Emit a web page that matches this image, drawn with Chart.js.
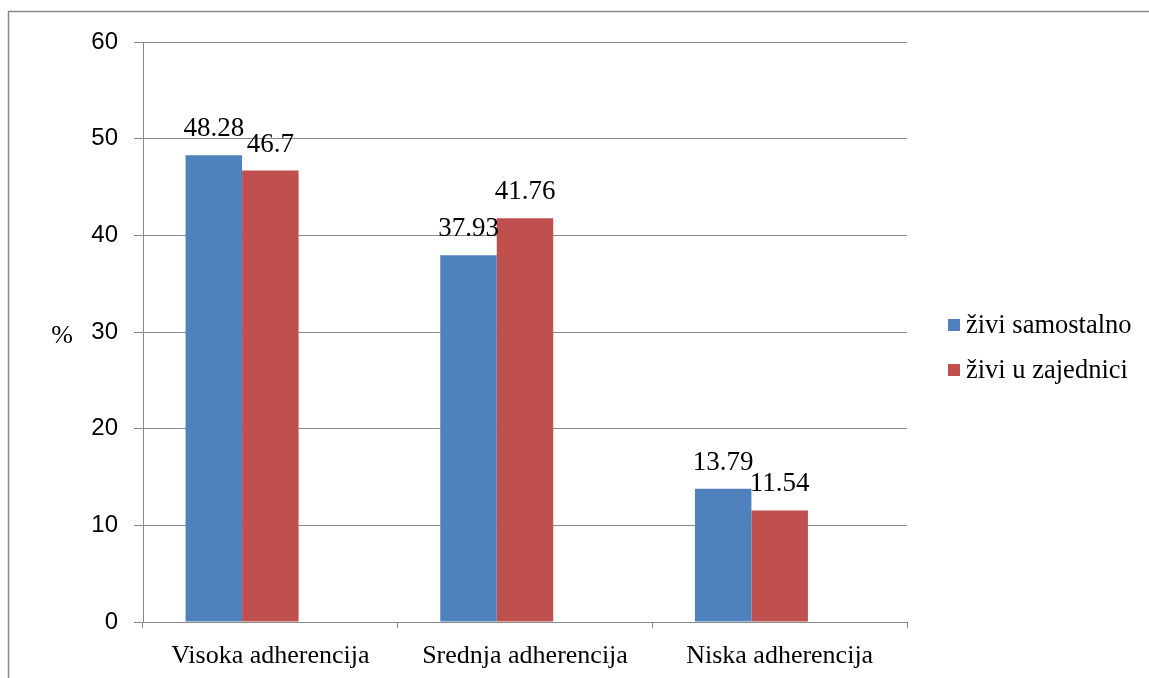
<!DOCTYPE html>
<html>
<head>
<meta charset="utf-8">
<script src="https://cdn.jsdelivr.net/npm/chart.js@4/dist/chart.umd.min.js"></script>
<style>
  html, body { margin: 0; padding: 0; background: #fff; overflow: hidden; }
  #wrap { position: relative; width: 1149px; height: 678px; }
</style>
</head>
<body>
<div id="wrap"><canvas id="myChart" width="1149" height="678"></canvas></div>
<script>
const kategorije = ["Visoka adherencija", "Srednja adherencija", "Niska adherencija"];
const samostalno = [48.28, 37.93, 13.79];
const zajednica = [46.7, 41.76, 11.54];
const prazno = [null, null, null]; // prazan niz, kao u Excelu (pomak grupe)
const nazivi = ["živi samostalno", "živi u zajednici"];
const boje = ["#4F81BD", "#C0504D"];

const siva = "#898989";
const serif = "'Liberation Serif', 'Times New Roman', serif";
const sans = "'Liberation Sans', Arial, sans-serif";

// okvir, oznaka % i legenda
const crtanje = {
  id: "crtanje",
  beforeDraw(chart) {
    const c = chart.ctx;
    c.save();
    c.strokeStyle = siva;
    c.lineWidth = 1.5;
    c.beginPath();
    c.moveTo(8.5, 678);
    c.lineTo(8.5, 11.5);
    c.lineTo(1149, 11.5);
    c.stroke();
    c.restore();
  },
  afterDatasetsDraw(chart) {
    const c = chart.ctx;
    c.save();
    c.fillStyle = "#000";
    c.font = "27px " + serif;
    c.textAlign = "center";
    c.textBaseline = "alphabetic";
    for (let d = 0; d < 2; d++) {
      const meta = chart.getDatasetMeta(d);
      meta.data.forEach((bar, i) => {
        const v = chart.data.datasets[d].data[i];
        c.fillText(String(v), bar.x, bar.y - 19);
      });
    }
    c.restore();
  },
  afterDraw(chart) {
    const c = chart.ctx;
    const a = chart.chartArea;
    c.save();
    c.fillStyle = "#000";
    c.font = "26px " + serif;
    c.textAlign = "center";
    c.textBaseline = "middle";
    c.fillText("%", 62, (a.top + a.bottom) / 2 + 4);

    const mid = (a.top + a.bottom) / 2;
    c.textAlign = "left";
    c.font = "26.5px " + serif;
    for (let i = 0; i < 2; i++) {
      const y = mid - 7 + i * 45;
      c.fillStyle = boje[i];
      c.fillRect(a.right + 41, y - 6, 12, 12);
      c.fillStyle = "#000";
      c.fillText(nazivi[i], a.right + 59, y + 1);
    }
    c.restore();
  }
};

function criarGrafico() {
  const ctx = document.querySelector("#myChart").getContext("2d");

  const data = {
    labels: kategorije,
    datasets: [
      { label: nazivi[0], data: samostalno, backgroundColor: boje[0] },
      { label: nazivi[1], data: zajednica, backgroundColor: boje[1] },
      { label: "", data: prazno, backgroundColor: "transparent" },
    ],
  };

  const options = {
    responsive: false,
    animation: false,
    events: [],
    layout: { padding: { top: 42, right: 242, bottom: 0, left: 0 } },
    datasets: {
      bar: { categoryPercentage: 0.6655, barPercentage: 1 },
    },
    plugins: {
      legend: { display: false },
      tooltip: { enabled: false },
    },
    scales: {
      x: {
        grid: {
          offset: true,
          drawOnChartArea: false,
          color: siva,
          tickLength: 6,
        },
        border: { color: siva },
        ticks: {
          color: "#000",
          font: { family: serif, size: 26 },
          padding: 13,
        },
        afterFit(scale) { scale.height = 56; },
      },
      y: {
        min: 0,
        max: 60,
        ticks: {
          stepSize: 10,
          color: "#000",
          font: { family: sans, size: 24 },
          padding: 16,
        },
        grid: { color: siva, tickLength: 9 },
        border: { color: siva },
        afterFit(scale) { scale.width = 143; },
      },
    },
  };

  return new Chart(ctx, {
    type: "bar",
    data: data,
    options: options,
    plugins: [crtanje],
  });
}

const myChart = criarGrafico();
</script>
</body>
</html>
